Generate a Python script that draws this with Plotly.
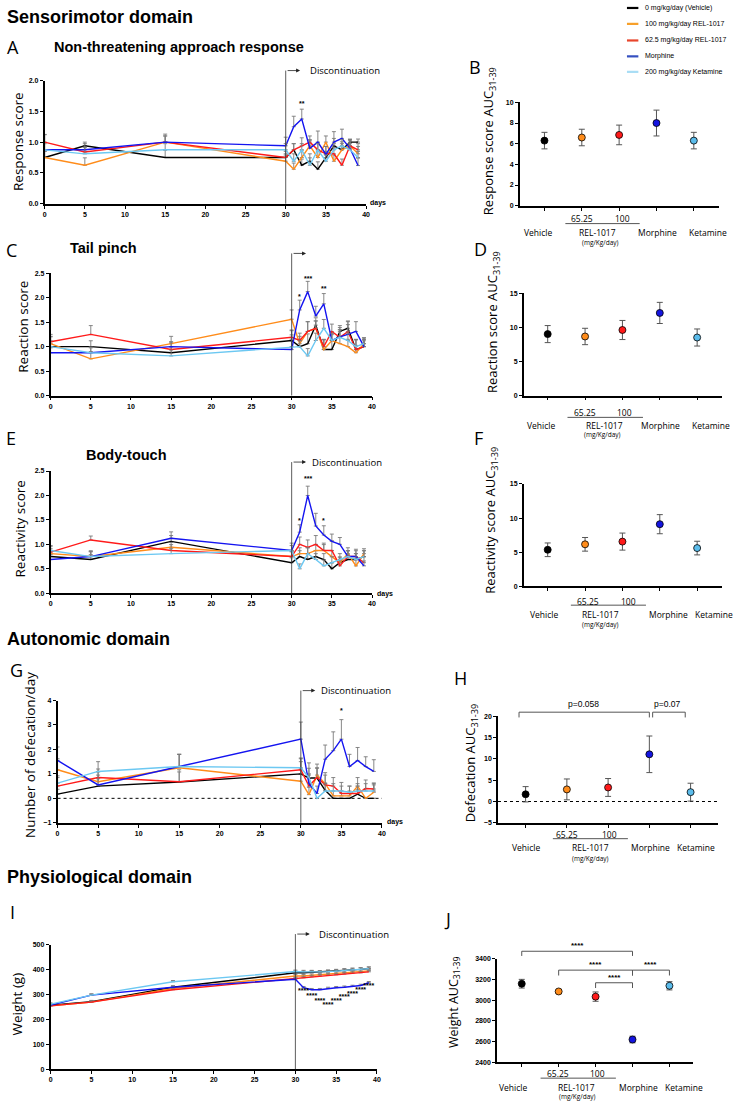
import plotly.graph_objects as go

W, H = 749, 1104

# ---------------- data ----------------
days = [0, 5, 15, 30, 31, 32, 33, 34, 35, 36, 37, 38, 39]
group_names = ["0 mg/kg/day (Vehicle)", "100 mg/kg/day REL-1017", "62.5 mg/kg/day REL-1017",
               "Morphine", "200 mg/kg/day Ketamine"]
line_colors = ["#000000", "#FF8C1A", "#FF1A1A", "#1414F0", "#6CC8F2"]
legend_colors = ["#000000", "#F7A02A", "#E8452C", "#3550C0", "#A8DDF5"]
marker_colors = ["#000000", "#FF8C1A", "#FF1A1A", "#1414E0", "#5BBCEB"]
categories = ["Vehicle", "65.25", "100", "Morphine", "Ketamine"]

# A: Non-threatening approach response (response score)
A_vehicle = [0.75, 0.94, 0.75, 0.75, 0.875, 0.625, 0.69, 0.56, 0.75, 0.94, 0.875, 1.0, 1.0]
A_rel100 = [0.75, 0.625, 1.0, 0.69, 0.56, 0.75, 0.94, 0.75, 1.0, 0.69, 0.875, 0.94, 0.81]
A_rel62 = [1.0, 0.84, 1.0, 0.75, 0.875, 0.94, 1.0, 0.875, 0.81, 0.81, 0.625, 0.94, 0.875]
A_morph = [0.875, 0.875, 1.0, 0.94, 1.25, 1.375, 0.9, 1.0, 0.8, 1.0, 1.06, 0.9, 0.62]
A_ket = [0.875, 0.81, 0.875, 0.875, 0.69, 0.875, 0.625, 0.875, 0.69, 0.875, 0.94, 0.875, 0.75]
A_vehicle_err = [0.1, 0.06, 0.12, 0.06, 0.1, 0.1, 0.12, 0.12, 0.1, 0.12, 0.13, 0.05, 0.05]
A_rel100_err = [0.1, 0.12, 0.13, 0.1, 0.1, 0.12, 0.1, 0.1, 0.1, 0.1, 0.1, 0.1, 0.12]
A_rel62_err = [0.12, 0.08, 0.1, 0.1, 0.1, 0.13, 0.1, 0.12, 0.12, 0.1, 0.1, 0.1, 0.1]
A_morph_err = [0.25, 0.1, 0.1, 0.14, 0.17, 0.16, 0.13, 0.18, 0.13, 0.17, 0.15, 0.13, 0.12]
A_ket_err = [0.1, 0.1, 0.1, 0.1, 0.12, 0.1, 0.12, 0.1, 0.1, 0.1, 0.1, 0.1, 0.1]

# C: Tail pinch (reaction score)
C_vehicle = [1.0, 1.0, 0.875, 1.125, 1.0, 1.06, 1.44, 0.94, 0.94, 1.31, 1.375, 0.94, 1.0]
C_rel100 = [1.06, 0.75, 1.06, 1.56, 1.06, 1.31, 1.375, 0.94, 1.125, 1.06, 1.0, 0.875, 1.06]
C_rel62 = [1.1, 1.25, 0.94, 1.19, 1.125, 1.31, 1.375, 1.0, 1.31, 1.19, 1.31, 0.94, 1.0]
C_morph = [0.875, 0.875, 1.0, 0.94, 1.75, 2.125, 1.625, 1.875, 1.125, 1.2, 1.25, 1.31, 1.0]
C_ket = [1.0, 0.875, 0.81, 1.0, 1.0, 0.81, 1.125, 1.375, 1.125, 1.19, 1.125, 1.0, 1.06]
C_vehicle_err = [0.2, 0.12, 0.12, 0.2, 0.15, 0.2, 0.15, 0.2, 0.2, 0.12, 0.15, 0.2, 0.15]
C_rel100_err = [0.15, 0.15, 0.15, 0.19, 0.15, 0.2, 0.15, 0.2, 0.15, 0.15, 0.15, 0.15, 0.12]
C_rel62_err = [0.15, 0.18, 0.15, 0.15, 0.15, 0.2, 0.15, 0.15, 0.15, 0.2, 0.2, 0.2, 0.15]
C_morph_err = [0.1, 0.1, 0.1, 0.3, 0.2, 0.21, 0.2, 0.21, 0.12, 0.15, 0.2, 0.2, 0.12]
C_ket_err = [0.12, 0.12, 0.12, 0.15, 0.12, 0.15, 0.15, 0.18, 0.15, 0.15, 0.15, 0.15, 0.12]

# E: Body-touch (reactivity score)
E_vehicle = [0.75, 0.69, 1.06, 0.625, 0.75, 0.69, 0.75, 0.69, 0.5, 0.625, 0.69, 0.69, 0.75]
E_rel100 = [0.81, 0.75, 0.94, 0.75, 0.81, 0.81, 0.875, 0.875, 0.75, 0.625, 0.81, 0.56, 0.81]
E_rel62 = [0.84, 1.09, 0.875, 0.75, 1.0, 0.94, 1.0, 0.875, 0.875, 0.56, 0.75, 0.75, 0.625]
E_morph = [0.69, 0.75, 1.125, 0.875, 1.25, 2.0, 1.375, 1.19, 1.06, 1.0, 0.75, 0.75, 0.56]
E_ket = [0.875, 0.75, 0.81, 0.875, 0.5, 0.81, 0.69, 0.56, 0.625, 0.69, 0.75, 0.69, 0.75]
E_vehicle_err = [0.1, 0.1, 0.12, 0.1, 0.12, 0.12, 0.12, 0.12, 0.12, 0.12, 0.1, 0.12, 0.12]
E_rel100_err = [0.1, 0.1, 0.1, 0.1, 0.12, 0.12, 0.12, 0.12, 0.12, 0.1, 0.12, 0.12, 0.1]
E_rel62_err = [0.12, 0.08, 0.12, 0.1, 0.15, 0.15, 0.18, 0.15, 0.2, 0.12, 0.12, 0.12, 0.12]
E_morph_err = [0.1, 0.12, 0.13, 0.15, 0.15, 0.19, 0.26, 0.19, 0.15, 0.14, 0.12, 0.15, 0.1]
E_ket_err = [0.1, 0.1, 0.1, 0.1, 0.1, 0.12, 0.12, 0.12, 0.12, 0.12, 0.12, 0.12, 0.12]

# G: Defecation (number per day)
G_vehicle = [0.17, 0.5, 0.67, 1.0, 0.83, 0.83, 0.33, 0.0, 0.0, 0.0, 0.17, 0.0, 0.0]
G_rel100 = [1.17, 0.68, 1.25, 0.7, 0.15, 0.95, 0.6, 0.1, 0.1, 0.1, 0.5, 0.0, 0.25]
G_rel62 = [0.5, 0.85, 0.68, 1.17, 0.5, 0.85, 0.55, 0.5, 0.2, 0.2, 0.2, 0.4, 0.38]
G_morph = [1.55, 0.55, 1.3, 2.42, 0.6, 0.2, 1.6, 1.95, 2.42, 1.3, 1.55, 1.3, 1.1]
G_ket = [0.62, 1.1, 1.3, 1.25, 0.85, 0.0, 0.3, 0.3, 0.3, 0.25, 0.3, 0.3, 0.3]
G_vehicle_err = [0.2, 0.3, 0.5, 0.5, 0.4, 0.4, 0.3, 0.0, 0.0, 0.0, 0.2, 0.0, 0.0]
G_rel100_err = [0.45, 0.4, 0.55, 0.5, 0.3, 0.45, 0.45, 0.2, 0.2, 0.2, 0.35, 0.0, 0.3]
G_rel62_err = [0.35, 0.35, 0.4, 0.45, 0.5, 0.4, 0.4, 0.35, 0.3, 0.3, 0.3, 0.35, 0.25]
G_morph_err = [0.55, 0.4, 0.5, 0.7, 0.35, 0.3, 0.58, 0.77, 0.8, 0.5, 0.53, 0.4, 0.48]
G_ket_err = [0.3, 0.4, 0.5, 0.4, 0.6, 0.0, 0.3, 0.3, 0.35, 0.25, 0.3, 0.3, 0.3]

# I: Weight (g)
I_vehicle = [258, 272, 330, 388, 388, 390, 390, 392, 395, 398, 400, 402, 405]
I_rel100 = [255, 270, 325, 375, 375, 378, 380, 382, 385, 388, 390, 393, 396]
I_rel62 = [255, 270, 320, 365, 368, 372, 375, 378, 380, 383, 386, 388, 392]
I_morph = [258, 298, 330, 362, 328, 320, 320, 325, 328, 330, 333, 337, 348]
I_ket = [262, 298, 352, 393, 392, 392, 390, 393, 395, 397, 400, 402, 405]
I_vehicle_err = [5, 5, 6, 7, 7, 7, 7, 7, 7, 7, 7, 7, 7]
I_rel100_err = [5, 5, 6, 6, 6, 6, 6, 6, 6, 6, 6, 6, 6]
I_rel62_err = [5, 5, 6, 6, 6, 6, 6, 6, 6, 6, 6, 6, 6]
I_morph_err = [5, 5, 5, 6, 5, 5, 5, 5, 5, 5, 5, 5, 5]
I_ket_err = [5, 5, 5, 6, 6, 6, 6, 6, 6, 6, 6, 6, 6]
I_star_days = [31, 32, 33, 34, 35, 36, 37, 38, 39]
I_star_y = [313, 293, 273, 257, 273, 290, 302, 316, 332]

# AUC (31-39) panels
B_mean = [6.3, 6.6, 6.85, 8.0, 6.3]
B_err = [0.8, 0.8, 0.95, 1.25, 0.8]
D_mean = [9.0, 8.65, 9.6, 12.1, 8.5]
D_err = [1.25, 1.2, 1.4, 1.55, 1.25]
F_mean = [5.35, 6.15, 6.55, 9.1, 5.6]
F_err = [1.0, 1.0, 1.25, 1.4, 1.0]
H_mean = [1.7, 2.85, 3.3, 11.1, 2.2]
H_err = [1.8, 2.45, 2.1, 4.3, 2.1]
J_mean = [3160, 3085, 3035, 2620, 3140]
J_err = [42, 15, 45, 32, 40]

# ---------------- helpers ----------------
fig = go.Figure()
annotations = []
shapes = []


def X(p):
    return p / W


def Y(p):
    return 1 - p / H


def aid(n, axis):
    return axis if n == 1 else f"{axis}{n}"


def lkey(n, axis):
    return f"{axis}axis" if n == 1 else f"{axis}axis{n}"


TICKFONT = dict(family="Liberation Sans", size=7, color="black", weight="bold")


def make_axes(n, xpx, ypx, xr, yr, yticks, xticks, ytickformat=None, show_xlabels=True):
    common = dict(showline=True, linecolor="black", linewidth=1.6, ticks="outside",
                  ticklen=3, tickwidth=1.2, tickcolor="black", showgrid=False,
                  zeroline=False, tickfont=TICKFONT, fixedrange=True)
    xa = dict(common, domain=[X(xpx[0]), X(xpx[1])], range=xr, anchor=aid(n, "y"),
              tickmode="array", tickvals=xticks, showticklabels=show_xlabels)
    ya = dict(common, domain=[Y(ypx[1]), Y(ypx[0])], range=yr, anchor=aid(n, "x"),
              tickmode="array", tickvals=yticks)
    if ytickformat:
        ya["tickformat"] = ytickformat
    fig.update_layout(**{lkey(n, "x"): xa, lkey(n, "y"): ya})


def text(x, y, s, size, family="Open Sans", xanchor="left", yanchor="middle",
         angle=0, xref="paper", yref="paper", color="black"):
    annotations.append(dict(x=x, y=y, text=s, showarrow=False,
                            font=dict(family=family, size=size, color=color),
                            xanchor=xanchor, yanchor=yanchor, textangle=angle,
                            xref=xref, yref=yref))


def add_series(n, vals_list, errs_list):
    for vals, errs, col in zip(vals_list, errs_list, line_colors):
        fig.add_trace(go.Scatter(
            x=days, y=vals, mode="lines", line=dict(color=col, width=1.4),
            error_y=dict(type="data", array=errs, arrayminus=[0] * len(errs),
                         symmetric=False, color="#7a7a7a", thickness=0.9, width=2),
            xaxis=aid(n, "x"), yaxis=aid(n, "y"), showlegend=False,
            cliponaxis=False, hoverinfo="skip"))


def add_auc(n, means, errs):
    fig.add_trace(go.Scatter(
        x=list(range(len(categories))), y=means, mode="markers",
        marker=dict(color=marker_colors, size=7, line=dict(color="black", width=0.8)),
        error_y=dict(type="data", array=errs, color="#555555", thickness=1, width=3),
        xaxis=aid(n, "x"), yaxis=aid(n, "y"), showlegend=False,
        cliponaxis=False, hoverinfo="skip"))


def cat_labels(n, bottom, offs, pos):
    xr = aid(n, "x")
    o1, o2, o3, o4 = offs
    v65, v100, l0, l1, veh, rel, mor, ket, mg = pos
    text(v65, Y(bottom + o1), categories[1], 8.5, xref=xr, xanchor="center")
    text(v100, Y(bottom + o1), categories[2], 8.5, xref=xr, xanchor="center")
    shapes.append(dict(type="line", xref=xr, yref="paper", x0=l0, x1=l1,
                       y0=Y(bottom + o2), y1=Y(bottom + o2),
                       line=dict(color="#555555", width=1)))
    text(veh, Y(bottom + o3), categories[0], 8.5, xref=xr, xanchor="center")
    text(rel, Y(bottom + o3), "REL-1017", 8.5, xref=xr, xanchor="center")
    text(mor, Y(bottom + o3), categories[3], 8.5, xref=xr, xanchor="center")
    text(ket, Y(bottom + o3), categories[4], 8.5, xref=xr, xanchor="center")
    text(mg, Y(bottom + o4), "(mg/Kg/day)", 6.5, xref=xr, xanchor="center")


def discontinuation(n, bottom, top, px_per_day, label_x=None):
    xr = aid(n, "x")
    shapes.append(dict(type="line", xref=xr, yref="paper", x0=30, x1=30,
                       y0=Y(bottom), y1=Y(top), line=dict(color="#333333", width=0.8)))
    annotations.append(dict(x=30 + 14.5 / px_per_day, y=Y(top), xref=xr, yref="paper",
                            text=" ", showarrow=True, ax=-14.5, ay=0, arrowhead=2,
                            arrowsize=1, arrowwidth=0.8, arrowcolor="#222222",
                            font=dict(size=2)))
    if label_x is not None:
        text(X(label_x), Y(top), "Discontinuation", 9.5)


def bracket(n, x0, x1, ytop, ytip, tip_left=True, tip_right=True, color="#555555"):
    xr = aid(n, "x")
    shapes.append(dict(type="line", xref=xr, yref="paper", x0=x0, x1=x1,
                       y0=Y(ytop), y1=Y(ytop), line=dict(color=color, width=1)))
    if tip_left:
        shapes.append(dict(type="line", xref=xr, yref="paper", x0=x0, x1=x0,
                           y0=Y(ytop), y1=Y(ytip), line=dict(color=color, width=1)))
    if tip_right:
        shapes.append(dict(type="line", xref=xr, yref="paper", x0=x1, x1=x1,
                           y0=Y(ytop), y1=Y(ytip), line=dict(color=color, width=1)))


def star(n, x, y, s, size=7):
    annotations.append(dict(x=x, y=y, xref=aid(n, "x"), yref=aid(n, "y"), text=f"<b>{s}</b>",
                            showarrow=False, font=dict(family="Liberation Sans", size=size,
                                                       color="black"),
                            xanchor="center", yanchor="middle"))


tx = [0, 5, 10, 15, 20, 25, 30, 35, 40]
cats = [0, 1, 2, 3, 4]

# ---------------- axes ----------------
make_axes(1, (43, 367), (77, 201), [0, 40], [0, 2], [0, 0.5, 1.0, 1.5, 2.0], tx, ".1f")
make_axes(2, (522, 723), (99, 203), [-0.66, 4.68], [0, 10], [0, 2, 4, 6, 8, 10], cats,
          show_xlabels=False)
make_axes(3, (49, 373), (271, 394), [0, 40], [0, 2.5], [0, 0.5, 1.0, 1.5, 2.0, 2.5], tx, ".1f")
make_axes(4, (526, 726), (291, 394), [-0.64, 4.67], [0, 15], [0, 5, 10, 15], cats,
          show_xlabels=False)
make_axes(5, (49, 373), (470, 593), [0, 40], [0, 2.5], [0, 0.5, 1.0, 1.5, 2.0, 2.5], tx, ".1f")
make_axes(6, (526, 726), (483, 586), [-0.64, 4.67], [0, 15], [0, 5, 10, 15], cats,
          show_xlabels=False)
make_axes(7, (56, 383), (701, 824), [0, 40], [-1, 4], [-1, 0, 1, 2, 3, 4], tx)
make_axes(8, (500, 722), (717, 824), [-0.67, 4.67], [-5, 20], [-5, 0, 5, 10, 15, 20], cats,
          show_xlabels=False)
make_axes(9, (49, 378), (947, 1072), [0, 40], [0, 500], [0, 100, 200, 300, 400, 500], tx)
make_axes(10, (499, 697), (961, 1065), [-0.67, 4.65], [2400, 3400],
          [2400, 2600, 2800, 3000, 3200, 3400], cats, show_xlabels=False)

# ---------------- traces ----------------
add_series(1, [A_vehicle, A_rel100, A_rel62, A_morph, A_ket],
           [A_vehicle_err, A_rel100_err, A_rel62_err, A_morph_err, A_ket_err])
add_series(3, [C_vehicle, C_rel100, C_rel62, C_morph, C_ket],
           [C_vehicle_err, C_rel100_err, C_rel62_err, C_morph_err, C_ket_err])
add_series(5, [E_vehicle, E_rel100, E_rel62, E_morph, E_ket],
           [E_vehicle_err, E_rel100_err, E_rel62_err, E_morph_err, E_ket_err])
# dotted zero lines (G, H)
shapes.append(dict(type="line", xref="x7", yref="y7", x0=0, x1=40, y0=0, y1=0,
                   line=dict(color="black", width=1, dash="dot"), layer="below"))
shapes.append(dict(type="line", xref="x8", yref="y8", x0=-0.67, x1=4.67, y0=0, y1=0,
                   line=dict(color="black", width=1, dash="dot"), layer="below"))
add_series(7, [G_vehicle, G_rel100, G_rel62, G_morph, G_ket],
           [G_vehicle_err, G_rel100_err, G_rel62_err, G_morph_err, G_ket_err])
add_series(9, [I_vehicle, I_rel100, I_rel62, I_morph, I_ket],
           [I_vehicle_err, I_rel100_err, I_rel62_err, I_morph_err, I_ket_err])
fig.add_trace(go.Scatter(x=I_star_days, y=I_star_y, mode="text",
                         text=["<b>****</b>"] * len(I_star_days),
                         textfont=dict(family="Liberation Sans", size=7, color="black"),
                         xaxis="x9", yaxis="y9", showlegend=False, cliponaxis=False,
                         hoverinfo="skip"))

add_auc(2, B_mean, B_err)
add_auc(4, D_mean, D_err)
add_auc(6, F_mean, F_err)
add_auc(8, H_mean, H_err)
add_auc(10, J_mean, J_err)

# ---------------- stars on time series ----------------
star(1, 32, 1.62, "**")
star(3, 31, 2.02, "*")
star(3, 32, 2.40, "***")
star(3, 34, 2.18, "**")
star(5, 31, 1.48, "*")
star(5, 32, 2.35, "***")
star(5, 34, 1.48, "*")
star(7, 35, 3.6, "*")

# ---------------- discontinuation ----------------
discontinuation(1, 201, 67, 8.1, 308)
discontinuation(3, 394, 251, 8.1, None)
discontinuation(5, 593, 461, 8.1, 310)
discontinuation(7, 824, 691, 8.17, 320)
discontinuation(9, 1072, 936, 8.22, 318)

# ---------------- category labels ----------------
cat_labels(2, 203, (13, 18, 27, 37), (1.0, 2.1, 0.56, 2.55, -0.17, 1.42, 3.03, 4.39, 1.5))
cat_labels(4, 394, (17, 22, 30, 39), (0.99, 2.05, 0.53, 2.55, -0.19, 1.52, 3.02, 4.36, 1.48))
cat_labels(6, 586, (15, 19, 28, 38), (1.07, 2.16, 0.62, 2.63, -0.1, 1.42, 3.23, 4.45, 1.42))
cat_labels(8, 824, (12, 16, 25, 36), (1.0, 2.04, 0.66, 2.48, 0.0, 1.58, 3.04, 4.14, 1.58))
cat_labels(10, 1065, (11, 16, 25, 34), (0.97, 2.06, 0.51, 2.55, -0.24, 1.49, 3.15, 4.4, 1.5))

# ---------------- brackets ----------------
bracket(8, -0.16, 3.0, 712.7, 718)
bracket(8, 3.08, 3.87, 712.7, 718)
text(1.41, Y(704), "p=0.058", 8.5, xref="x8", xanchor="center", family="Liberation Sans")
text(3.45, Y(704), "p=0.07", 8.5, xref="x8", xanchor="center", family="Liberation Sans")

bracket(10, 0, 3, 953.3, 958)
bracket(10, 1, 3, 972.3, 977.7)
bracket(10, 3, 4, 972.3, 977.7)
bracket(10, 2, 3, 985, 990.3)
text(1.5, Y(948), "<b>****</b>", 8, xref="x10", xanchor="center", family="Liberation Sans")
text(2.0, Y(967), "<b>****</b>", 8, xref="x10", xanchor="center", family="Liberation Sans")
text(3.48, Y(967), "<b>****</b>", 8, xref="x10", xanchor="center", family="Liberation Sans")
text(2.5, Y(980), "<b>****</b>", 8, xref="x10", xanchor="center", family="Liberation Sans")

# ---------------- headings & panel letters ----------------
HF = "Liberation Sans"
text(X(3), Y(13), "<b>Sensorimotor domain</b>", 18, family=HF)
text(X(3), Y(639), "<b>Autonomic domain</b>", 18, family=HF)
text(X(3), Y(879), "<b>Physiological domain</b>", 18, family=HF)

text(X(3), Y(43), "A", 18)
text(X(50), Y(43), "<b>Non-threatening approach response</b>", 14.5, family=HF)
text(X(469), Y(63), "B", 18)
text(X(2), Y(248), "C", 18)
text(X(67), Y(246), "<b>Tail pinch</b>", 14.5, family=HF)
text(X(474), Y(247), "D", 18)
text(X(2), Y(437), "E", 18)
text(X(83), Y(454), "<b>Body-touch</b>", 14.5, family=HF)
text(X(474), Y(437), "F", 18)
text(X(6), Y(670), "G", 18)
text(X(454), Y(678), "H", 18)
text(X(6), Y(914), "I", 18)
text(X(444), Y(921), "J", 18)

# y-axis titles
text(X(16), Y(138), "Response score", 13.5, xanchor="center", angle=-90)
text(X(21), Y(325), "Reaction score", 13.5, xanchor="center", angle=-90)
text(X(18), Y(528), "Reactivity score", 13.5, xanchor="center", angle=-90)
text(X(28), Y(756), "Number of defecation/day", 13.5, xanchor="center", angle=-90)
text(X(15), Y(1006), "Weight (g)", 13.5, xanchor="center", angle=-90)
text(X(491), Y(138), "Response score AUC<sub>31-39</sub>", 13, xanchor="center", angle=-90)
text(X(495), Y(320), "Reaction score AUC<sub>31-39</sub>", 13, xanchor="center", angle=-90)
text(X(493), Y(520), "Reactivity score AUC<sub>31-39</sub>", 13, xanchor="center", angle=-90)
text(X(473), Y(764), "Defecation AUC<sub>31-39</sub>", 13, xanchor="center", angle=-90)
text(X(456), Y(1004), "Weight AUC<sub>31-39</sub>", 12.5, xanchor="center", angle=-90)

# "days" labels
text(X(369), Y(200), "<b>days</b>", 7, family=HF)
text(X(376), Y(594), "<b>days</b>", 7, family=HF)
text(X(386), Y(823), "<b>days</b>", 7, family=HF)

# ---------------- legend (manual) ----------------
leg_y = [4, 20, 36.7, 52.7, 68.3]
for name, col, yy in zip(group_names, legend_colors, leg_y):
    shapes.append(dict(type="line", xref="paper", yref="paper", x0=X(630), x1=X(641.5),
                       y0=Y(yy), y1=Y(yy), line=dict(color=col, width=2.2)))
    text(X(646), Y(yy), name, 7, family="Liberation Sans")

fig.update_layout(
    width=W, height=H, margin=dict(l=0, r=0, t=0, b=0),
    paper_bgcolor="white", plot_bgcolor="rgba(0,0,0,0)",
    showlegend=False, annotations=annotations, shapes=shapes,
)

fig.write_html("out.html", config={"displayModeBar": False},
               post_script="document.body.style.margin='0px';document.body.style.padding='0px';")
